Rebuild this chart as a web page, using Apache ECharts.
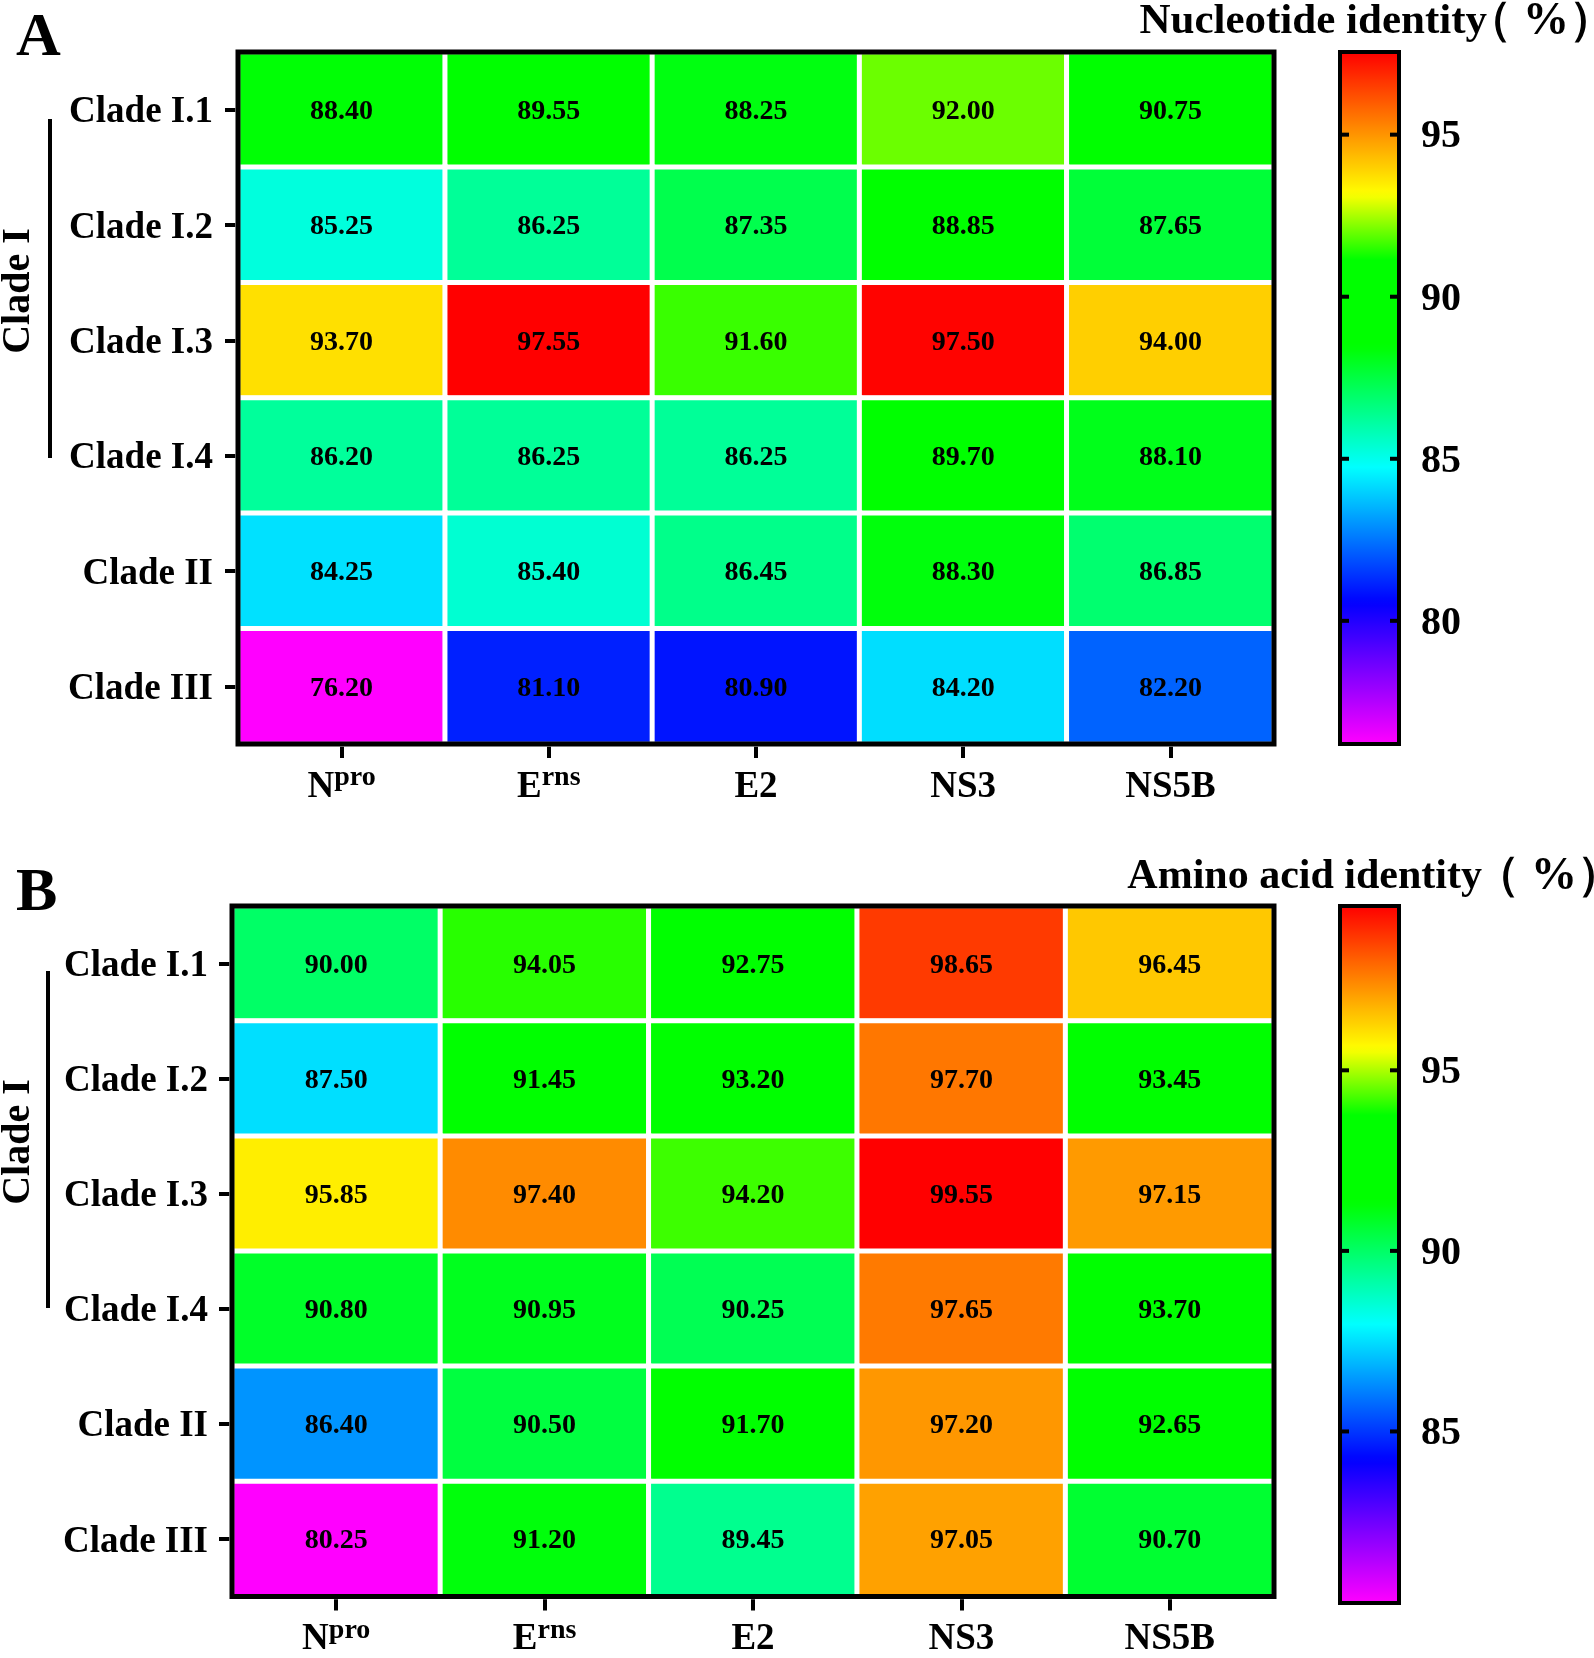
<!DOCTYPE html>
<html>
<head>
<meta charset="utf-8">
<script src="https://cdn.jsdelivr.net/npm/echarts@6/dist/echarts.min.js"></script>
<style>
html,body{margin:0;padding:0;background:#fff;}
#chart{width:1594px;height:1658px;}
</style>
</head>
<body>
<div id="chart"></div>
<script>
// ---------- data ----------
const clades = ['Clade I.1', 'Clade I.2', 'Clade I.3', 'Clade I.4', 'Clade II', 'Clade III'];
const genes = ['Npro', 'Erns', 'E2', 'NS3', 'NS5B'];
const geneBase = ['N', 'E', 'E2', 'NS3', 'NS5B'];
const geneSup = ['pro', 'rns', '', '', ''];

// rows = clades, columns = genes
const nucleotideIdentity = [
  [88.40, 89.55, 88.25, 92.00, 90.75],
  [85.25, 86.25, 87.35, 88.85, 87.65],
  [93.70, 97.55, 91.60, 97.50, 94.00],
  [86.20, 86.25, 86.25, 89.70, 88.10],
  [84.25, 85.40, 86.45, 88.30, 86.85],
  [76.20, 81.10, 80.90, 84.20, 82.20]
];
const aminoAcidIdentity = [
  [90.00, 94.05, 92.75, 98.65, 96.45],
  [87.50, 91.45, 93.20, 97.70, 93.45],
  [95.85, 97.40, 94.20, 99.55, 97.15],
  [90.80, 90.95, 90.25, 97.65, 93.70],
  [86.40, 90.50, 91.70, 97.20, 92.65],
  [80.25, 91.20, 89.45, 97.05, 90.70]
];
const ntTicks = [80, 85, 90, 95];
const aaTicks = [85, 90, 95];
const ntTitle = ['Nucleotide identity', '（ %）'];
const aaTitle = ['Amino acid identity', '（ %）'];

// ---------- style ----------
const FONT = 'Liberation Serif, Times New Roman, serif';
const paletteStops = [[0, '#ff00ff'], [0.205, '#0000ff'], [0.40, '#00ffff'], [0.575, '#00ff00'], [0.70, '#00ff00'], [0.795, '#ffff00'], [1, '#ff0000']];
function hex2rgb(h) { return [1, 3, 5].map(i => parseInt(h.substr(i, 2), 16)); }
function buildPalette(n) {
  const out = [];
  for (let k = 0; k < n; k++) {
    const t = k / (n - 1);
    let j = 0;
    while (j < paletteStops.length - 2 && t > paletteStops[j + 1][0]) j++;
    const [t0, c0] = paletteStops[j], [t1, c1] = paletteStops[j + 1];
    const u = (t - t0) / (t1 - t0);
    const a = hex2rgb(c0), b = hex2rgb(c1);
    const c = a.map((v, i) => Math.round(v + (b[i] - v) * u));
    out.push('rgb(' + c.join(',') + ')');
  }
  return out;
}
const palette = buildPalette(201);

function toCells(matrix) {
  const cells = [];
  matrix.forEach((row, r) => row.forEach((v, c) => cells.push([c, r, v])));
  return cells;
}
function flatMin(m) { return Math.min.apply(null, m.flat()); }
function flatMax(m) { return Math.max.apply(null, m.flat()); }

const ntMin = flatMin(nucleotideIdentity), ntMax = flatMax(nucleotideIdentity);
const aaMin = flatMin(aminoAcidIdentity), aaMax = flatMax(aminoAcidIdentity);

const heatGrids = [
  { left: 238, top: 52, width: 1036, height: 692 },
  { left: 232, top: 906, width: 1042, height: 697 }
];
const barGrids = [
  { left: 1340, top: 52, width: 59, height: 692 },
  { left: 1340, top: 906, width: 59, height: 697 }
];

const chart = echarts.init(document.getElementById('chart'), null, { renderer: 'canvas' });

function heatXAxis(gi) {
  return {
    gridIndex: gi, type: 'category', data: genes, position: 'bottom',
    axisLine: { show: false },
    axisTick: { show: true, alignWithLabel: true, length: 14, lineStyle: { color: '#000', width: 4 } },
    axisLabel: {
      margin: 20, color: '#000',
      formatter: function (v, idx) {
        return geneSup[idx] ? '{m|' + geneBase[idx] + '}{s|' + geneSup[idx] + '}' : '{m|' + geneBase[idx] + '}';
      },
      rich: {
        m: { fontSize: 37, fontWeight: 'bold', fontFamily: FONT, color: '#000', lineHeight: 46 },
        s: { fontSize: 28, fontWeight: 'bold', fontFamily: FONT, color: '#000', verticalAlign: 'top' }
      }
    },
    splitLine: { show: false }
  };
}
function heatYAxis(gi, margin) {
  return {
    gridIndex: gi, type: 'category', data: clades, inverse: true,
    axisLine: { show: false },
    axisTick: { show: true, alignWithLabel: true, length: 13, lineStyle: { color: '#000', width: 4 } },
    axisLabel: { margin: margin, fontSize: 37, fontWeight: 'bold', fontFamily: FONT, color: '#000', verticalAlign: 'top', lineHeight: 6 },
    splitLine: { show: false }
  };
}
function barYAxis(gi, min, max, ticks) {
  return {
    gridIndex: gi, type: 'value', min: min, max: max, position: 'right',
    axisLine: { show: false },
    axisTick: { show: false },
    axisLabel: { customValues: ticks, margin: 22, fontSize: 40, fontWeight: 'bold', fontFamily: FONT, color: '#000', verticalAlign: 'top', lineHeight: 5 },
    splitLine: { show: false }
  };
}
function heatSeries(idx, matrix) {
  return {
    type: 'heatmap', xAxisIndex: idx, yAxisIndex: idx,
    data: toCells(matrix),
    label: {
      show: true, color: '#000', fontSize: 28, fontWeight: 'bold', fontFamily: FONT, offset: [0, 2],
      formatter: p => p.value[2].toFixed(2)
    },
    itemStyle: { borderColor: '#ffffff', borderWidth: 5 },
    emphasis: { disabled: true }
  };
}
// short inside tick marks on both edges of a colour bar, placed through the bar's value axis
function barTickSeries(axisIdx, ticks) {
  return {
    type: 'custom', xAxisIndex: axisIdx, yAxisIndex: axisIdx, z: 20, silent: true,
    data: ticks.map(v => [0.5, v]),
    renderItem: function (params, api) {
      const y = api.coord([0.5, api.value(1)])[1];
      const r = params.coordSys;
      const len = 9;
      return {
        type: 'group',
        children: [
          { type: 'line', shape: { x1: r.x, y1: y, x2: r.x + len, y2: y }, style: { stroke: '#000', lineWidth: 4 } },
          { type: 'line', shape: { x1: r.x + r.width - len, y1: y, x2: r.x + r.width, y2: y }, style: { stroke: '#000', lineWidth: 4 } }
        ]
      };
    }
  };
}

const option = {
  backgroundColor: '#ffffff',
  animation: false,
  textStyle: { fontFamily: FONT },
  grid: [
    Object.assign({ show: true, borderColor: '#000', borderWidth: 5, backgroundColor: 'transparent', z: 10 }, heatGrids[0]),
    Object.assign({ show: true, borderColor: '#000', borderWidth: 5, backgroundColor: 'transparent', z: 10 }, heatGrids[1]),
    Object.assign({ show: true, borderColor: '#000', borderWidth: 4, backgroundColor: 'transparent', z: 10 }, barGrids[0]),
    Object.assign({ show: true, borderColor: '#000', borderWidth: 4, backgroundColor: 'transparent', z: 10 }, barGrids[1])
  ],
  xAxis: [
    heatXAxis(0),
    heatXAxis(1),
    { gridIndex: 2, type: 'value', show: false, min: 0, max: 1 },
    { gridIndex: 3, type: 'value', show: false, min: 0, max: 1 }
  ],
  yAxis: [
    heatYAxis(0, 25),
    heatYAxis(1, 24),
    barYAxis(2, ntMin, ntMax, ntTicks),
    barYAxis(3, aaMin, aaMax, aaTicks)
  ],
  visualMap: [
    {
      type: 'continuous', seriesIndex: 0, min: ntMin, max: ntMax, calculable: false,
      left: barGrids[0].left, top: barGrids[0].top, itemWidth: barGrids[0].width, itemHeight: barGrids[0].height,
      padding: 0, inRange: { color: palette }, z: 4
    },
    {
      type: 'continuous', seriesIndex: 1, min: aaMin, max: aaMax, calculable: false,
      left: barGrids[1].left, top: barGrids[1].top, itemWidth: barGrids[1].width, itemHeight: barGrids[1].height,
      padding: 0, inRange: { color: palette }, z: 4
    }
  ],
  series: [
    heatSeries(0, nucleotideIdentity),
    heatSeries(1, aminoAcidIdentity),
    barTickSeries(2, ntTicks),
    barTickSeries(3, aaTicks)
  ],
  graphic: [
    { type: 'text', left: 16, top: 8, style: { text: 'A', font: 'bold 62px ' + FONT, fill: '#000' } },
    { type: 'text', left: 16, top: 863, style: { text: 'B', font: 'bold 62px ' + FONT, fill: '#000' } },
    { type: 'text', x: 1487, y: 22, style: { text: ntTitle[0], font: 'bold 43px ' + FONT, fill: '#000', align: 'right', verticalAlign: 'middle' } },
    { type: 'text', x: 1615, y: 22, style: { text: ntTitle[1], font: 'bold 46px ' + FONT, fill: '#000', align: 'right', verticalAlign: 'middle' } },
    { type: 'text', x: 1482, y: 877, style: { text: aaTitle[0], font: 'bold 42px ' + FONT, fill: '#000', align: 'right', verticalAlign: 'middle' } },
    { type: 'text', x: 1623, y: 877, style: { text: aaTitle[1], font: 'bold 46px ' + FONT, fill: '#000', align: 'right', verticalAlign: 'middle' } },
    { type: 'text', x: 19, y: 291, rotation: Math.PI / 2, style: { text: 'Clade I', font: 'bold 40px ' + FONT, fill: '#000', align: 'center', verticalAlign: 'middle' } },
    { type: 'text', x: 19, y: 1142, rotation: Math.PI / 2, style: { text: 'Clade I', font: 'bold 40px ' + FONT, fill: '#000', align: 'center', verticalAlign: 'middle' } },
    { type: 'line', shape: { x1: 50, y1: 119, x2: 50, y2: 458 }, style: { stroke: '#000', lineWidth: 4 } },
    { type: 'line', shape: { x1: 48, y1: 971, x2: 48, y2: 1308 }, style: { stroke: '#000', lineWidth: 4 } }
  ]
};
chart.setOption(option);
</script>
</body>
</html>
